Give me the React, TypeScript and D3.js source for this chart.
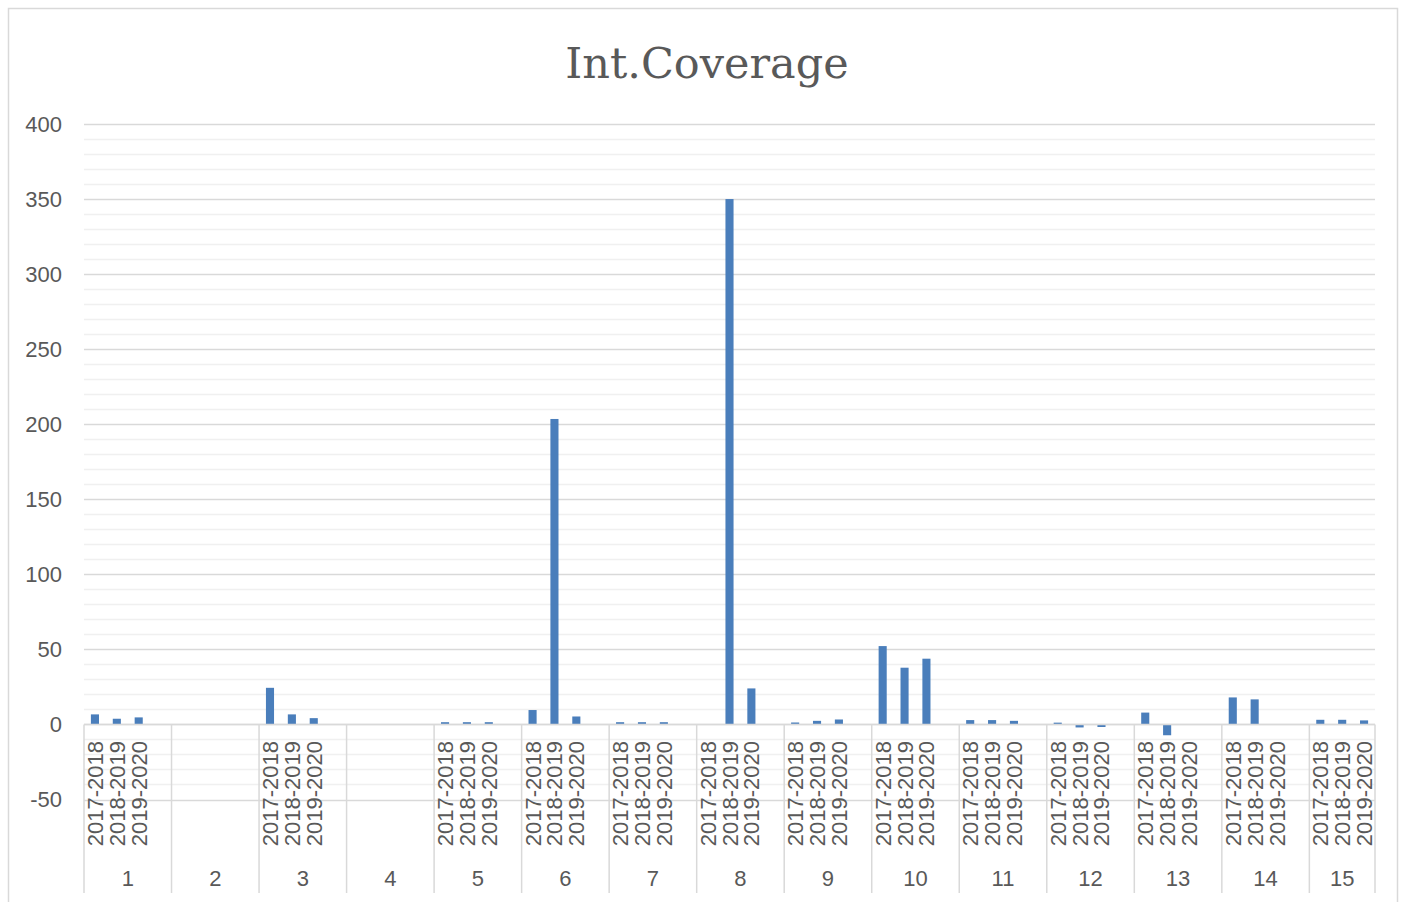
import React from "react";
import * as d3 from "d3";

const title = "Int.Coverage";
const groups = ["1", "2", "3", "4", "5", "6", "7", "8", "9", "10", "11", "12", "13", "14", "15"];
const periods = ["2017-2018", "2018-2019", "2019-2020"];
const emptyGroups = ["2", "4"];
const values2017 = [6.7, null, 24.4, null, 1.5, 9.6, 1.5, 0, 1.3, 52.2, 2.9, 1.2, 7.9, 18, 3.1];
const values2018 = [3.8, null, 6.7, null, 1.5, 203.5, 1.5, 350, 2.4, 37.8, 2.9, -2, -7.2, 16.7, 3.1];
const values2019 = [4.7, null, 4.2, null, 1.5, 5.3, 1.5, 24, 3.3, 43.8, 2.4, -1.7, -0.3, 0, 2.7];
const yTicks = [-50, 0, 50, 100, 150, 200, 250, 300, 350, 400];

const W = 1402;
const H = 902;
const left = 84;
const right = 1375;
const top = 124;
const bottom = 799.5;

export default function App() {
  const series = [values2017, values2018, values2019];
  // leaves: each group has 3 periods + 1 spacer leaf, except the last group
  const leaves: { id: string; group: string; gi: number; pi: number }[] = [];
  groups.forEach((g, gi) => {
    const n = gi === groups.length - 1 ? 3 : 4;
    for (let pi = 0; pi < n; pi++) leaves.push({ id: `${g}|${pi}`, group: g, gi, pi });
  });
  const x = d3.scaleBand<string>().domain(leaves.map((l) => l.id)).range([left, right]).padding(0);
  const y = d3.scaleLinear().domain([-50, 400]).range([bottom, top]);
  const minorTicks = d3.range(-50, 401, 10);
  const bw = x.bandwidth() * 0.37;
  const font = "'Liberation Sans', Arial, sans-serif";
  const textColor = "#595959";

  const groupBounds = groups.map((g, gi) => {
    const ls = leaves.filter((l) => l.gi === gi);
    const x0 = x(ls[0].id)!;
    const x1 = x(ls[ls.length - 1].id)! + x.bandwidth();
    return { g, x0, x1 };
  });

  return (
    <svg width={W} height={H} style={{ position: "absolute", left: 0, top: 0 }}>
      <rect x={0} y={0} width={W} height={H} fill="#fff" />
      <path d={`M8.5,${H + 10} V8.5 H1397.5 V${H + 10}`} fill="none" stroke="#d9d9d9" strokeWidth={1.5} />
      <text x={707} y={78} textAnchor="middle" fontFamily="'DejaVu Serif', 'Liberation Serif', serif" fontSize={43} fill={textColor}>
        {title}
      </text>
      {minorTicks.map((t) => (
        <line key={`m${t}`} x1={left} x2={right} y1={Math.round(y(t)) + 0.5} y2={Math.round(y(t)) + 0.5} stroke={t % 50 === 0 ? "#d9d9d9" : "#f0f0f0"} strokeWidth={1.5} />
      ))}
      {yTicks.map((t) => (
        <text key={`t${t}`} x={62} y={y(t)} dy="0.35em" textAnchor="end" fontFamily={font} fontSize={22} fill={textColor}>
          {t}
        </text>
      ))}
      {leaves.map((l) => {
        if (l.pi > 2) return null;
        const v = series[l.pi][l.gi];
        if (v === null || v === undefined) return null;
        const cx = x(l.id)! + x.bandwidth() / 2;
        const y0 = y(0);
        const yv = y(v);
        return (
          <rect key={`b${l.id}`} x={cx - bw / 2} y={Math.min(y0, yv)} width={bw} height={Math.abs(yv - y0)} fill="#4a7ebb" />
        );
      })}
      <line x1={left} x2={right} y1={y(0)} y2={y(0)} stroke="#d9d9d9" strokeWidth={1.5} />
      {groupBounds.map((b) => (
        <line key={`s${b.g}`} x1={b.x0} x2={b.x0} y1={y(0)} y2={893} stroke="#d9d9d9" strokeWidth={1.5} />
      ))}
      <line x1={right} x2={right} y1={y(0)} y2={893} stroke="#d9d9d9" strokeWidth={1.5} />
      {leaves.map((l) => {
        if (l.pi > 2 || emptyGroups.includes(l.group)) return null;
        const cx = x(l.id)! + x.bandwidth() / 2;
        return (
          <text key={`l${l.id}`} transform={`translate(${cx + 8},741) rotate(-90)`} textAnchor="end" fontFamily={font} fontSize={22} fill={textColor}>
            {periods[l.pi]}
          </text>
        );
      })}
      {groupBounds.map((b) => (
        <text key={`g${b.g}`} x={(b.x0 + b.x1) / 2} y={886} textAnchor="middle" fontFamily={font} fontSize={22} fill={textColor}>
          {b.g}
        </text>
      ))}
    </svg>
  );
}
